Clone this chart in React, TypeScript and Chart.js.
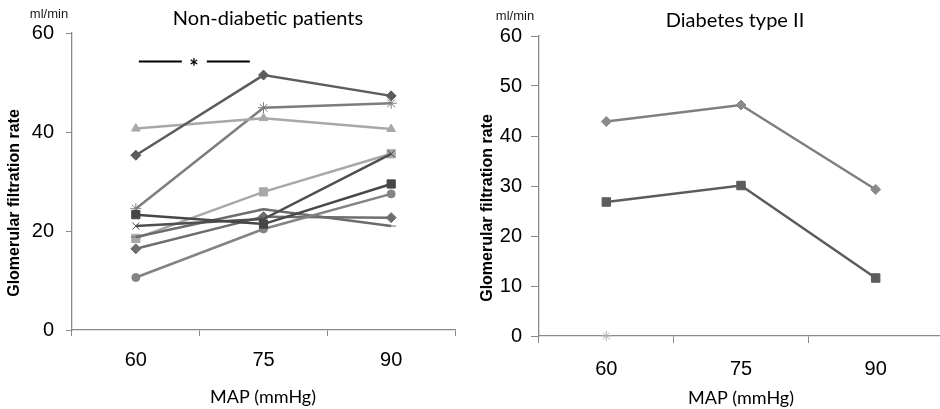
import React, { useEffect, useRef } from "react";
import { Chart, registerables } from "chart.js";

Chart.register(...registerables);

// ---------- data ----------
const MAP_LEVELS = ["60", "75", "90"];
const LEFT_Y_TICKS = [0, 20, 40, 60];
const RIGHT_Y_TICKS = [0, 10, 20, 30, 40, 50, 60];

// Non-diabetic patients (ml/min) at MAP 60 / 75 / 90
const ndDiamondDark = [35.3, 51.5, 47.3];
const ndSquareDark = [23.3, 21.4, 29.5];
const ndTriangle = [40.7, 42.8, 40.6];
const ndCross = [21.0, 22.4, 35.6];
const ndStar = [24.5, 44.9, 45.8];
const ndCircle = [10.6, 20.4, 27.5];
const ndDash = [18.8, 24.4, 21.0];
const ndDiamondMid = [16.4, 22.9, 22.7];
const ndSquareLight = [18.5, 27.9, 35.6];

// Diabetes type II
const dmDiamond = [42.9, 46.2, 29.3];
const dmSquare = [26.8, 30.1, 11.6];
const dmStar = [0, null, null];

const TEXT_FONT = '"Liberation Sans", Arial, sans-serif';
const TITLE_FONT = 'Lato, "Open Sans", sans-serif';

type TextSpec = {
  mlX: number; mlY: number;
  title: string; titleX: number; titleY: number;
  yTitleX: number; yTitleY: number;
  xTitleX: number; xTitleY: number;
  significance?: boolean;
};

function textPlugin(spec: TextSpec) {
  return {
    id: "extraText",
    afterDraw(chart: any) {
      const ctx = chart.ctx as CanvasRenderingContext2D;
      ctx.save();
      ctx.fillStyle = "#1a1a1a";
      ctx.textAlign = "center";
      ctx.textBaseline = "middle";
      ctx.font = `13px ${TEXT_FONT}`;
      ctx.fillText("ml/min", spec.mlX, spec.mlY);
      ctx.fillStyle = "#000";
      ctx.font = `20px ${TITLE_FONT}`;
      ctx.fillText(spec.title, spec.titleX, spec.titleY);
      ctx.font = `18px ${TITLE_FONT}`;
      ctx.fillText("MAP (mmHg)", spec.xTitleX, spec.xTitleY);
      ctx.save();
      ctx.translate(spec.yTitleX, spec.yTitleY);
      ctx.rotate(-Math.PI / 2);
      ctx.font = `bold 16px ${TEXT_FONT}`;
      ctx.fillText("Glomerular filtration rate", 0, 0);
      ctx.restore();
      if (spec.significance) {
        const xs = chart.scales.x;
        const ys = chart.scales.y;
        const x0 = xs.getPixelForValue(0);
        const y = Math.round(ys.getPixelForValue(54.4)) + 0.5;
        ctx.strokeStyle = "#000";
        ctx.lineWidth = 2;
        ctx.beginPath();
        ctx.moveTo(x0 + 3, y);
        ctx.lineTo(x0 + 46, y);
        ctx.moveTo(x0 + 71, y);
        ctx.lineTo(x0 + 114, y);
        ctx.stroke();
        ctx.textBaseline = "alphabetic";
        ctx.font = `bold 22px ${TITLE_FONT}`;
        ctx.fillText("*", x0 + 58, y + 13);
      }
      ctx.restore();
    },
  };
}

function series(label: string, data: (number | null)[], color: string, pointStyle: string, radius: number, pointColor?: string) {
  return {
    label,
    data,
    borderColor: color,
    backgroundColor: pointColor || color,
    pointBackgroundColor: pointColor || color,
    pointBorderColor: pointColor || color,
    borderWidth: 2.5,
    pointBorderWidth: 1,
    pointStyle,
    pointRadius: radius,
    pointHoverRadius: radius,
    tension: 0,
    fill: false,
    clip: false,
  };
}

function axes(yTicks: number[], yMax: number, yWidth: number, xHeight: number, yTickLen: number, yPad: number, xTickLen: number, xPad: number) {
  const axisColor = "#8a8a8a";
  return {
    x: {
      type: "category",
      offset: true,
      afterFit: (s: any) => { s.height = xHeight; },
      grid: { display: true, offset: true, drawOnChartArea: false, drawTicks: true, tickLength: xTickLen, color: axisColor, lineWidth: 1 },
      border: { display: true, color: axisColor, width: 1.3 },
      ticks: { color: "#000", font: { family: TEXT_FONT, size: 20 }, padding: xPad, maxRotation: 0 },
    },
    y: {
      type: "linear",
      min: 0,
      max: yMax,
      afterFit: (s: any) => { s.width = yWidth; },
      afterBuildTicks: (s: any) => { s.ticks = yTicks.map((v) => ({ value: v })); },
      grid: { display: true, drawOnChartArea: false, drawTicks: true, tickLength: yTickLen, color: axisColor, lineWidth: 1 },
      border: { display: true, color: axisColor, width: 1.3 },
      ticks: { color: "#000", font: { family: TEXT_FONT, size: 20 }, padding: yPad },
    },
  };
}

function LeftChart() {
  const ref = useRef<HTMLCanvasElement>(null);
  useEffect(() => {
    const chart = new Chart(ref.current as HTMLCanvasElement, {
      type: "line",
      data: {
        labels: MAP_LEVELS,
        datasets: [
          series("A", ndDiamondDark, "#5c5c5c", "rectRot", 5),
          series("B", ndSquareDark, "#474747", "rect", 5.8),
          series("C", ndTriangle, "#a8a8a8", "triangle", 5),
          series("D", ndCross, "#4f4f4f", "crossRot", 5),
          series("E", ndStar, "#7d7d7d", "star", 5.5),
          series("F", ndCircle, "#838383", "circle", 4),
          series("G", ndDash, "#6c6c6c", "line", 5),
          series("H", ndDiamondMid, "#6e6e6e", "rectRot", 5),
          series("I", ndSquareLight, "#a8a8a8", "rect", 5.8),
        ] as any,
      },
      options: {
        responsive: false,
        animation: false,
        devicePixelRatio: 1,
        layout: { padding: { top: 33, right: 15, left: 0, bottom: 0 } },
        plugins: { legend: { display: false }, tooltip: { enabled: false }, title: { display: false } },
        scales: axes(LEFT_Y_TICKS, 60, 72, 79, 6, 12, 6, 12) as any,
      },
      plugins: [textPlugin({
        mlX: 49, mlY: 14,
        title: "Non-diabetic patients", titleX: 268, titleY: 19,
        yTitleX: 15, yTitleY: 203,
        xTitleX: 263, xTitleY: 397,
        significance: true,
      })],
    });
    return () => chart.destroy();
  }, []);
  return <canvas ref={ref} width={470} height={409} style={{ position: "absolute", left: 0, top: 0 }} />;
}

function RightChart() {
  const ref = useRef<HTMLCanvasElement>(null);
  useEffect(() => {
    const chart = new Chart(ref.current as HTMLCanvasElement, {
      type: "line",
      data: {
        labels: MAP_LEVELS,
        datasets: [
          series("A", dmDiamond, "#7f7f7f", "rectRot", 5, "#8a8a8a"),
          series("B", dmSquare, "#5c5c5c", "rect", 6),
          series("C", dmStar, "#b3b3b3", "star", 5),
        ] as any,
      },
      options: {
        responsive: false,
        animation: false,
        devicePixelRatio: 1,
        layout: { padding: { top: 36, right: 6, left: 0, bottom: 0 } },
        plugins: { legend: { display: false }, tooltip: { enabled: false }, title: { display: false } },
        scales: axes(RIGHT_Y_TICKS, 60, 69, 73, 8, 9, 7, 14) as any,
      },
      plugins: [textPlugin({
        mlX: 45, mlY: 16,
        title: "Diabetes type II", titleX: 265, titleY: 21,
        yTitleX: 18, yTitleY: 208,
        xTitleX: 271, xTitleY: 398,
      })],
    });
    return () => chart.destroy();
  }, []);
  return (
    <div style={{ position: "absolute", left: 470, top: 0, width: 470, height: 409, overflow: "hidden" }}>
      <canvas ref={ref} width={480} height={409} style={{ position: "absolute", left: 0, top: 0 }} />
    </div>
  );
}

export default function App() {
  return (
    <div style={{ position: "fixed", left: 0, top: 0, width: 940, height: 409, background: "#fff", overflow: "hidden" }}>
      <LeftChart />
      <RightChart />
    </div>
  );
}
